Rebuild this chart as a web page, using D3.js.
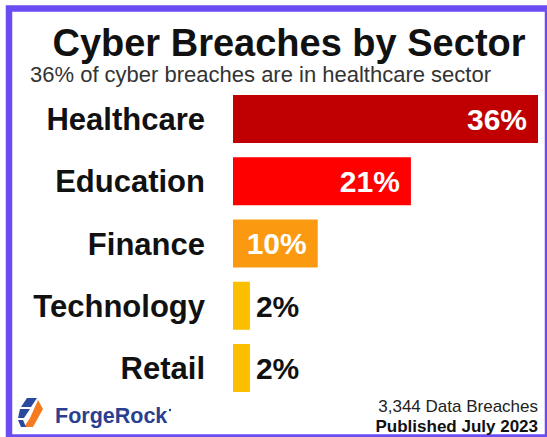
<!DOCTYPE html>
<html>
<head>
<meta charset="utf-8">
<script src="https://cdn.jsdelivr.net/npm/d3@7"></script>
<style>
body { margin: 0; background: #fff; }
svg { display: block; font-family: "Liberation Sans", Arial, sans-serif; }
</style>
</head>
<body>
<script>
// data
var sectors = ["Healthcare", "Education", "Finance", "Technology", "Retail"];
var shares = [36, 21, 10, 2, 2];
var barColors = ["#c00000", "#ff0000", "#fb9a10", "#fcbf00", "#fcbf00"];
var titleText = "Cyber Breaches by Sector";
var subtitleText = "36% of cyber breaches are in healthcare sector";
var footLines = ["3,344 Data Breaches", "Published July 2023"];

var W = 547, H = 437;
var svg = d3.select("body").append("svg")
    .attr("width", W)
    .attr("height", H);

// purple frame
svg.append("rect")
    .attr("x", 9).attr("y", 8.5)
    .attr("width", 539).attr("height", 429)
    .attr("fill", "#fff")
    .attr("stroke", "#6a4cf2")
    .attr("stroke-width", 6.5);

svg.append("text")
    .attr("x", 289).attr("y", 56)
    .attr("text-anchor", "middle")
    .attr("font-size", 38)
    .attr("font-weight", "bold")
    .attr("fill", "#111")
    .text(titleText);

svg.append("text")
    .attr("x", 30).attr("y", 82)
    .attr("font-size", 22)
    .attr("fill", "#333")
    .text(subtitleText);

var x = d3.scaleLinear().domain([0, 36]).range([233, 538]);
var y = d3.scaleBand().domain(sectors).range([95, 392]).paddingInner(0.229).paddingOuter(0);

var rows = svg.selectAll("g.row")
    .data(sectors)
    .enter().append("g")
    .attr("class", "row");

rows.append("rect")
    .attr("x", x(0))
    .attr("y", function(d){ return y(d); })
    .attr("width", function(d, i){ return x(shares[i]) - x(0); })
    .attr("height", y.bandwidth())
    .attr("fill", function(d, i){ return barColors[i]; });

// sector names
rows.append("text")
    .attr("x", 205)
    .attr("y", function(d){ return y(d) + y.bandwidth()/2; })
    .attr("dy", "0.36em")
    .attr("text-anchor", "end")
    .attr("font-size", 31)
    .attr("font-weight", "bold")
    .attr("fill", "#111")
    .text(function(d){ return d; });

// value labels, inside when bar is wide enough
rows.append("text")
    .attr("x", function(d, i){ return shares[i] > 5 ? x(shares[i]) - 11 : x(shares[i]) + 6; })
    .attr("y", function(d){ return y(d) + y.bandwidth()/2; })
    .attr("dy", "0.36em")
    .attr("text-anchor", function(d, i){ return shares[i] > 5 ? "end" : "start"; })
    .attr("font-size", 30)
    .attr("font-weight", "bold")
    .attr("fill", function(d, i){ return shares[i] > 5 ? "#fff" : "#111"; })
    .text(function(d, i){ return shares[i] + "%"; });

// footer
svg.append("text")
    .attr("x", 538).attr("y", 412)
    .attr("text-anchor", "end")
    .attr("font-size", 17)
    .attr("fill", "#222")
    .text(footLines[0]);
svg.append("text")
    .attr("x", 538).attr("y", 432)
    .attr("text-anchor", "end")
    .attr("font-size", 17)
    .attr("font-weight", "bold")
    .attr("fill", "#111")
    .text(footLines[1]);

// ForgeRock logo
var logo = svg.append("g");
logo.append("path").attr("d", "M27,398 L37,398 L31,407 L21,407 Z").attr("fill", "#2b4a9e");
logo.append("path").attr("d", "M20,409 L30,409 L24,418 L18,418 Z").attr("fill", "#2b4a9e");
logo.append("path").attr("d", "M38,400 L43,409 L33,427 L24,427 L30,418 Z").attr("fill", "#f47b20");
logo.append("path").attr("d", "M18,420 L23,420 L26,427 L21,427 Z").attr("fill", "#2b4a9e");
logo.append("text")
    .attr("x", 55).attr("y", 423)
    .attr("font-size", 21.5)
    .attr("font-weight", "bold")
    .attr("fill", "#2a3f8f")
    .text("ForgeRock");
logo.append("circle").attr("cx", 170).attr("cy", 410).attr("r", 1.2).attr("fill", "#2a3f8f");
</script>
</body>
</html>
